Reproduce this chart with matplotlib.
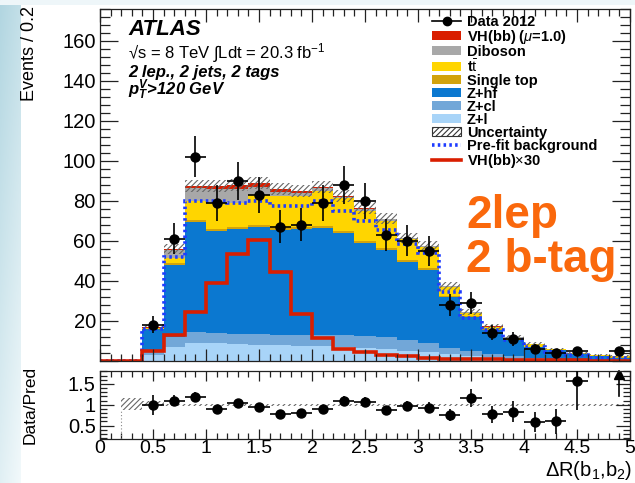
import numpy as np
import matplotlib
matplotlib.use("Agg")
import matplotlib.pyplot as plt
from matplotlib.patches import Patch
from matplotlib.lines import Line2D
from matplotlib.ticker import MultipleLocator, FixedLocator, FuncFormatter

plt.rcParams['font.family'] = ['Liberation Sans', 'DejaVu Sans']
plt.rcParams['mathtext.fontset'] = 'custom'
plt.rcParams['mathtext.rm'] = 'Liberation Sans'
plt.rcParams['mathtext.it'] = 'Liberation Sans:italic'
plt.rcParams['mathtext.bf'] = 'Liberation Sans:bold'
plt.rcParams['mathtext.bfit'] = 'Liberation Sans:bold:italic'
plt.rcParams['hatch.linewidth'] = 0.8

# dR(b1,b2) binning, 0.2 wide
edges = np.round(np.arange(0, 5.01, 0.2), 2)
centers = edges[:-1] + 0.1

# post-fit background components (events per bin)
z_l = [0, 0, 3, 7, 9, 9, 8.5, 8, 8, 7.5, 7.5, 7, 6.5, 6, 5, 4.5, 3.5, 2.7, 2, 1.2, 0.8, 0.5, 0.4, 0.3, 0.3]
z_cl = [0, 0, 1.5, 5, 5.5, 5, 5, 5.5, 5, 5.5, 5.5, 6, 6, 6, 5.5, 4.5, 3, 2.3, 1.5, 1.3, 0.7, 0.7, 0.4, 0.2, 0.2]
z_hf = [0, 0, 11.5, 36, 55, 51, 52.5, 53.5, 52.5, 53, 53.5, 51, 46.5, 43.5, 39, 36.5, 25.5, 17, 12, 8, 5.5, 4.3, 2.7, 1.8, 1.2]
single_top = [0, 0, 0.2, 0.8, 1, 1, 1, 1, 1, 1, 1, 1, 1, 0.8, 0.8, 0.7, 0.5, 0.4, 0.3, 0.2, 0.2, 0.1, 0.1, 0.05, 0.05]
ttbar = [0, 0, 0.3, 2.7, 9.2, 13, 12, 15, 16, 15.5, 17.5, 16.5, 15, 13.7, 10.7, 10.8, 4.5, 1.6, 1.2, 1.0, 1.3, 0.4, 0.2, 0.65, 0.55]
diboson = [0, 0, 0.2, 4, 6.8, 7, 7, 4, 2, 1.5, 1.5, 0.5, 1, 1, 0.5, 0.5, 0.3, 0.3, 0.2, 0.2, 0.1, 0.1, 0.1, 0.05, 0.05]
# VH(bb) signal scaled by 30
vh_x30 = [0, 0, 5, 13, 24.6, 39, 53.5, 60.5, 44.5, 23.7, 11.3, 5.8, 4.7, 3, 2.3, 1.7, 1.2, 1, 0.8, 0.6, 0.5, 0.4, 0.3, 0.2, 0.2]
# pre-fit total background
prefit = [0, 0, 16, 52, 80, 80, 79, 80, 77.5, 77.5, 79.7, 74.7, 69.7, 65.5, 58.5, 54, 34.7, 21.5, 15.5, 10.5, 7, 4.7, 3, 1.5, 1.5]
# systematic uncertainty on the total
unc = [0, 0, 1.2, 2.5, 3, 3, 3, 3, 3, 3, 3, 3, 3, 2.8, 2.5, 2.5, 2, 1.5, 1.2, 1, 0.8, 0.6, 0.5, 0.4, 0.4]

data = [np.nan, np.nan, 18, 61, 102, 79, 90, 83, 67, 68, 79, 88, 80, 63, 60, 55, 28, 29, 14, 11, 6, 4, 5, np.nan, 5]
ratio = [np.nan, np.nan, 1.0, 1.1, 1.19, 0.9, 1.04, 0.94, 0.78, 0.8, 0.9, 1.09, 1.07, 0.87, 0.97, 0.93, 0.75, 1.17,
         0.77, 0.83, 0.58, 0.6, 1.58, np.nan, 2.2]
ratio_lo = [np.nan, 0.87, 0.96, 0.97, 0.97, 0.97, 0.97, 0.97, 0.97, 0.97, 0.97, 0.97, 0.97, 0.97, 0.97, 0.97, 0.97,
            0.97, 0.97, 0.97, 0.97, 0.97, 0.97, 0.97, 0.97]
ratio_hi = [np.nan, 1.17, 1.1, 1.03, 1.03, 1.03, 1.03, 1.03, 1.03, 1.03, 1.03, 1.03, 1.03, 1.03, 1.03, 1.03, 1.03,
            1.03, 1.03, 1.03, 1.03, 1.03, 1.03, 1.03, 1.03]

c_zl = '#a8d4f8'
c_zcl = '#72a7d8'
c_zhf = '#0b78d0'
c_stop = '#d2a30c'
c_tt = '#ffd500'
c_db = '#a8a8a8'
c_vh = '#d91e00'
c_pre = '#1e3cff'

vh = np.array(vh_x30) / 30.0
comps = [(z_l, c_zl), (z_cl, c_zcl), (z_hf, c_zhf), (single_top, c_stop), (ttbar, c_tt), (diboson, c_db), (vh, c_vh)]

W, H = 635, 483
fig = plt.figure(figsize=(W / 100, H / 100), dpi=100)
fig.patch.set_facecolor('white')

# slide background strip on the left
bg = fig.add_axes([0, 0, 21 / W, 1])
gy = np.linspace(0, 1, 200)[:, None]
gx = np.linspace(0, 1, 20)[None, :]
grad = np.clip(0.25 + 0.55 * gy + 0.2 * gx, 0, 1)
bg.imshow(grad, aspect='auto', cmap=matplotlib.colors.LinearSegmentedColormap.from_list(
    'slide', ['#9ccad8', '#f2f9fb']), vmin=0, vmax=1)
bg.axis('off')
top_strip = fig.add_axes([0, 1 - 5 / H, 1, 5 / H])
top_strip.axis('off')
top_strip.add_patch(plt.Rectangle((0, 0), 1, 1, color='#eef6f9', transform=top_strip.transAxes))

ax = fig.add_axes([100 / W, (H - 361) / H, 530 / W, (361 - 8.5) / H])
rax = fig.add_axes([100 / W, (H - 439) / H, 530 / W, (439 - 371) / H])

# stacked backgrounds + signal
bottom = np.zeros(len(centers))
for vals, col in comps:
    top = bottom + np.array(vals)
    ax.stairs(top, edges, baseline=bottom, fill=True, color=col, lw=0)
    bottom = top
total = bottom

unc = np.array(unc)
ax.bar(edges[:-1], 2 * unc, bottom=total - unc, width=0.2, align='edge',
       facecolor='none', edgecolor='#666666', hatch='//////', lw=0)

ax.stairs(prefit, edges, color=c_pre, lw=2.6, ls=(0, (0.7, 0.9)), baseline=None)
ax.stairs(np.array(vh_x30), edges, color=c_vh, lw=2.6, baseline=None)

data = np.array(data)
ax.errorbar(centers, data, yerr=np.sqrt(data), xerr=0.1, fmt='o', color='black',
            ms=6.5, elinewidth=1.2, capsize=0, zorder=5)

ax.set_xlim(0, 5)
ax.set_ylim(0, 176)
ax.yaxis.set_major_locator(FixedLocator(np.arange(0, 170, 20)))
ax.yaxis.set_major_formatter(FuncFormatter(lambda v, p: '' if v == 0 else '%d' % v))
ax.yaxis.set_minor_locator(MultipleLocator(4))
ax.xaxis.set_major_locator(MultipleLocator(0.5))
ax.xaxis.set_minor_locator(MultipleLocator(0.1))
ax.tick_params(axis='x', which='both', labelbottom=False)
ax.tick_params(which='both', direction='in', top=True, right=True, color='#222222', width=0.9)
ax.tick_params(axis='y', which='major', length=13, labelsize=14.5, pad=3)
ax.tick_params(axis='y', which='minor', length=7)
ax.tick_params(axis='x', which='major', length=9)
ax.tick_params(axis='x', which='minor', length=5)
for s in ax.spines.values():
    s.set_linewidth(0.9)
    s.set_color('#222222')

# ratio panel
ratio = np.array(ratio)
rerr = ratio / np.sqrt(data)
rbot, rtop = 0.18, 1.81
rax.bar(edges[:-1], np.array(ratio_hi) - np.array(ratio_lo), bottom=ratio_lo, width=0.2, align='edge',
        facecolor='none', edgecolor='#666666', hatch='//////', lw=0)
rax.plot([0.2, 0.2], [rbot, 0.87], color='#888888', lw=0.8, ls=(0, (1, 2)))
inside = ratio <= rtop
rax.errorbar(centers[inside], ratio[inside], yerr=rerr[inside], xerr=0.1, fmt='o', color='black',
             ms=6.5, elinewidth=1.2, capsize=0, zorder=5)
# points above the range are shown as arrows at the top edge
for xc, r, e in zip(centers[~inside], ratio[~inside], rerr[~inside]):
    if np.isnan(r):
        continue
    rax.plot([xc, xc], [r - e, rtop], color='black', lw=1.2, clip_on=False)
    rax.plot([xc], [rtop - 0.06], marker='^', color='black', ms=7)

rax.set_xlim(0, 5)
rax.set_ylim(rbot, rtop)
rax.yaxis.set_major_locator(FixedLocator([0.5, 1.0, 1.5]))
rax.yaxis.set_major_formatter(FuncFormatter(lambda v, p: '%g' % v))
rax.yaxis.set_minor_locator(MultipleLocator(0.1))
rax.xaxis.set_major_locator(MultipleLocator(0.5))
rax.xaxis.set_minor_locator(MultipleLocator(0.1))
rax.xaxis.set_major_formatter(FuncFormatter(lambda v, p: '%g' % v))
rax.tick_params(which='both', direction='in', top=True, right=True, color='#222222', width=0.9)
rax.tick_params(axis='y', which='major', length=10, labelsize=14.5, pad=3)
rax.tick_params(axis='y', which='minor', length=5)
rax.tick_params(axis='x', which='major', length=7, labelsize=14, pad=1)
rax.tick_params(axis='x', which='minor', length=4)
for s in rax.spines.values():
    s.set_linewidth(0.9)
    s.set_color('#222222')

fig.text(30 / W, 1 - 6 / H, 'Events / 0.2', rotation=90, ha='center', va='top', fontsize=13)
fig.text(30 / W, 1 - 405 / H, 'Data/Pred', rotation=90, ha='center', va='center', fontsize=12.5)
fig.text(632 / W, 1 - 476 / H, r'$\Delta$R(b$_{1}$,b$_{2}$)', ha='right', va='baseline', fontsize=14.5)


# labels inside the main panel, placed in panel pixels
def px(xp, yp):
    return ((xp - 100) / 530, (361 - yp) / 352.5)


ax.text(*px(128, 35), 'ATLAS', transform=ax.transAxes, fontsize=16, fontweight='bold', fontstyle='italic')
ax.text(*px(128, 58), '√s = 8 TeV ∫Ldt = 20.3 fb$^{-1}$', transform=ax.transAxes, fontsize=12)
ax.text(*px(128, 77), '2 lep., 2 jets, 2 tags', transform=ax.transAxes, fontsize=12,
        fontweight='bold', fontstyle='italic')
ax.text(*px(128, 95), r'$\mathbfit{p}_{\mathbfit{T}}^{\mathbfit{V}}$>120 GeV', transform=ax.transAxes,
        fontsize=12, fontweight='bold', fontstyle='italic')
ax.text(*px(466, 228), '2lep', transform=ax.transAxes, fontsize=33, fontweight='bold', color='#fa680c')
ax.text(*px(466, 272), '2 b-tag', transform=ax.transAxes, fontsize=33, fontweight='bold', color='#fa680c')

handles = [
    Line2D([0], [0], color='black', marker='o', ms=6, lw=1.2),
    Patch(facecolor=c_vh), Patch(facecolor=c_db), Patch(facecolor=c_tt), Patch(facecolor=c_stop),
    Patch(facecolor=c_zhf), Patch(facecolor=c_zcl), Patch(facecolor=c_zl),
    Patch(facecolor='white', edgecolor='#333333', hatch='//////', lw=0.8),
    Line2D([0], [0], color=c_pre, lw=2.6, ls=(0, (0.7, 0.9))),
    Line2D([0], [0], color=c_vh, lw=2.6),
]
labels = ['Data 2012', r'VH(bb) ($\mu$=1.0)', 'Diboson', r't$\bar{\mathrm{t}}$', 'Single top', 'Z+hf',
          'Z+cl', 'Z+l', 'Uncertainty', 'Pre-fit background', r'VH(bb)$\times$30']
leg = ax.legend(handles, labels, loc='upper left', bbox_to_anchor=px(432, 15), frameon=False,
                prop={'size': 10.5, 'weight': 'bold'}, handlelength=2.0, handleheight=0.6,
                handletextpad=0.4, labelspacing=-0.07, borderpad=0, borderaxespad=0)

fig.savefig('out.png', dpi=100)
